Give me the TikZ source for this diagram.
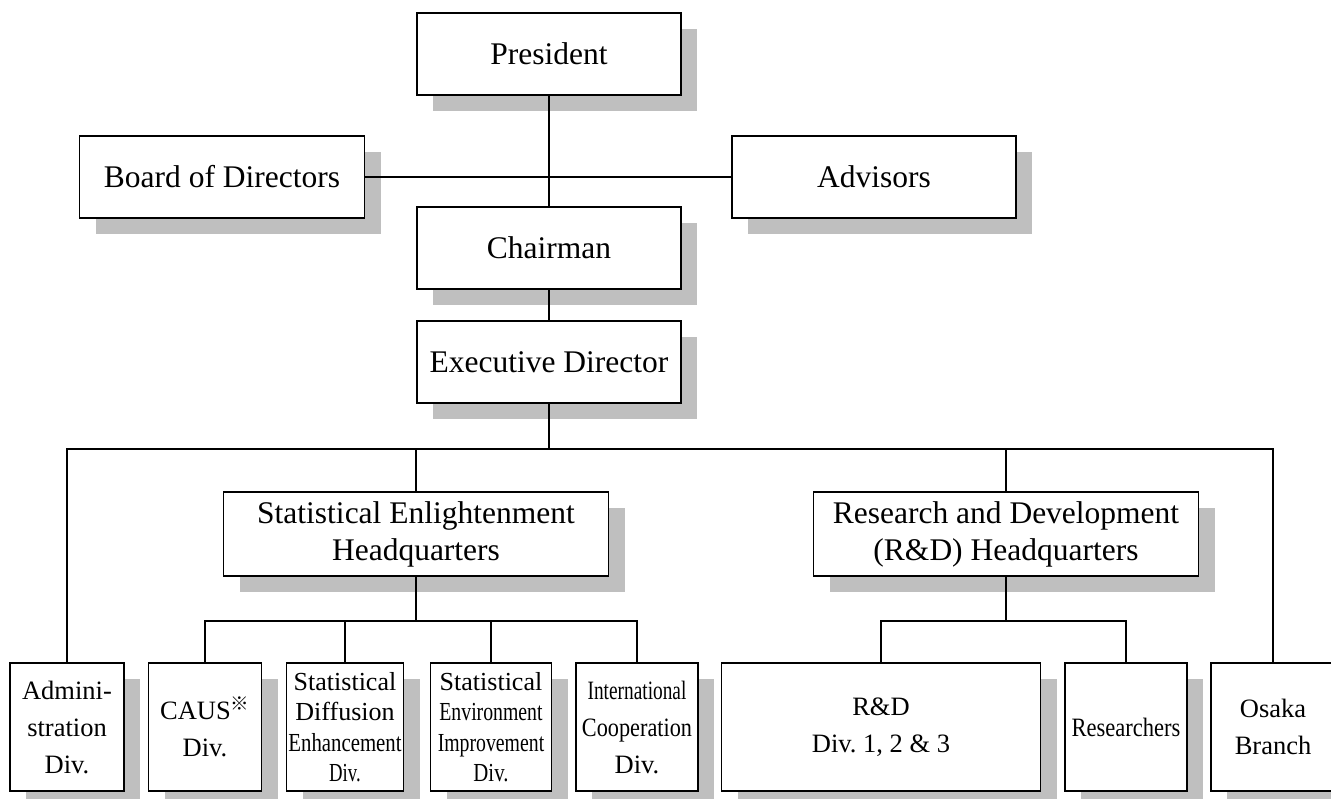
\documentclass[tikz,border=0pt]{standalone}
\usepackage{fontspec}
\setmainfont{Liberation Serif}
\newfontfamily\cjkfont{Noto Sans CJK JP}
\usetikzlibrary{shadows}
\definecolor{shadowgray}{HTML}{BFBFBF}
\frenchspacing

\begin{document}
\begin{tikzpicture}[x=1pt, y=-1pt,
        box/.style={draw, fill=white, line width=1.6pt, inner sep=0pt, align=center,
          drop shadow={shadow xshift=16pt, shadow yshift=-16pt, fill=shadowgray, opacity=1},
          font=\fontsize{31.5}{37}\selectfont},
        topbox/.style={box, minimum width=264pt, minimum height=82pt},
        hqbox/.style={box, minimum width=385pt, minimum height=84pt},
        divbox/.style={box, minimum height=128pt, font=\fontsize{26.5}{37}\selectfont},
        tightbox/.style={divbox, font=\fontsize{26}{30.5}\selectfont},
        link/.style={line width=1.7pt}]
      \useasboundingbox (0,0) rectangle (1331,799);

      % Nodes
      \node[topbox] (president) at (549,54) {President};
      \node[box, minimum width=285pt, minimum height=82pt] (board) at (222,177) {Board of Directors};
      \node[box, minimum width=284pt, minimum height=82pt] (advisors) at (874,177) {Advisors};
      \node[topbox] (chairman) at (549,248) {Chairman};
      \node[topbox] (exec) at (549,362) {Executive Director};
      \node[hqbox] (sehq) at (416,534) {Statistical Enlightenment\\Headquarters};
      \node[hqbox] (rdhq) at (1006,534) {Research and Development\\(R\&D) Headquarters};
      \node[divbox, minimum width=114pt] (admin) at (67,727) {Admini-\\stration\\Div.};
      \node[divbox, minimum width=113pt] (caus) at (205,727) {CAUS\textsuperscript{\cjkfont ※}\\Div.};
      \node[tightbox, minimum width=117pt] (sde) at (345,727) {Statistical\\Diffusion\\\scalebox{0.8}[1]{Enhancement}\\\scalebox{0.72}[1]{Div.}};
      \node[tightbox, minimum width=121pt] (sei) at (491,727) {Statistical\\\scalebox{0.76}[1]{Environment}\\\scalebox{0.76}[1]{Improvement}\\\scalebox{0.8}[1]{Div.}};
      \node[divbox, minimum width=122pt] (icd) at (637,727) {\scalebox{0.73}[1]{International}\\\scalebox{0.84}[1]{Cooperation}\\Div.};
      \node[divbox, minimum width=319pt] (rddiv) at (881,727) {R\&D\\Div. 1, 2 \& 3};
      \node[divbox, minimum width=122pt] (researchers) at (1126,727) {\scalebox{0.85}[1]{Researchers}};
      \node[divbox, minimum width=124pt] (osaka) at (1273,727) {Osaka\\Branch};

      % Edges
      \coordinate (bus) at (549,449);
      \coordinate (sebus) at (416,621);
      \coordinate (rdbus) at (1006,621);
      \draw[link] (president) -- (chairman);
      \draw[link] (board) -- (advisors);
      \draw[link] (chairman) -- (exec);
      \draw[link] (exec) -- (bus);
      \draw[link] (admin) |- (bus) -| (osaka);
      \draw[link] (sehq) -- (sehq |- bus);
      \draw[link] (rdhq) -- (rdhq |- bus);
      \draw[link] (sehq) -- (sebus);
      \draw[link] (caus) |- (sebus) -| (icd);
      \draw[link] (sde) -- (sde |- sebus);
      \draw[link] (sei) -- (sei |- sebus);
      \draw[link] (rdhq) -- (rdbus);
      \draw[link] (rddiv) |- (rdbus) -| (researchers);
    \end{tikzpicture}
\end{document}
